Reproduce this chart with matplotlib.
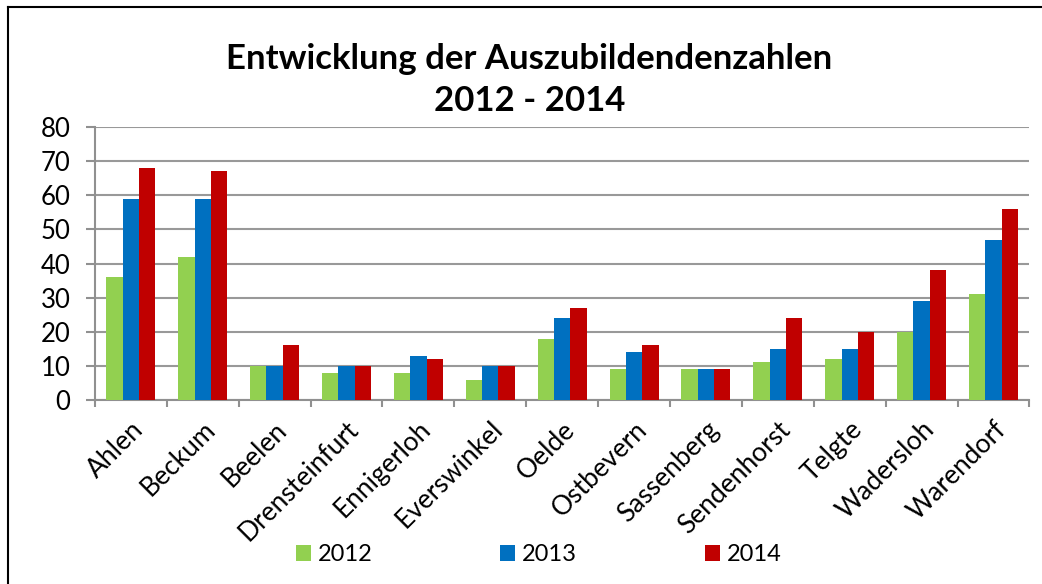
import numpy as np
import matplotlib.pyplot as plt
from matplotlib.lines import Line2D

plt.rcParams['font.family'] = ['Lato', 'DejaVu Sans']

orte = ['Ahlen', 'Beckum', 'Beelen', 'Drensteinfurt', 'Ennigerloh', 'Everswinkel',
        'Oelde', 'Ostbevern', 'Sassenberg', 'Sendenhorst', 'Telgte', 'Wadersloh', 'Warendorf']
werte_2012 = [36, 42, 10, 8, 8, 6, 18, 9, 9, 11, 12, 20, 31]
werte_2013 = [59, 59, 10, 10, 13, 10, 24, 14, 9, 15, 15, 29, 47]
werte_2014 = [68, 67, 16, 10, 12, 10, 27, 16, 9, 24, 20, 38, 56]
jahre = ['2012', '2013', '2014']
farben = ['#92D050', '#0070C0', '#C00000']

fig = plt.figure(figsize=(10.42, 5.84), dpi=100)
ax = fig.add_axes([0.091, 0.315, 0.897, 0.4675])

x = np.arange(len(orte))
w = 0.227
for i, (vals, farbe, jahr) in enumerate(zip([werte_2012, werte_2013, werte_2014], farben, jahre)):
    ax.bar(x + (i - 1) * w, vals, w, color=farbe, label=jahr, zorder=3)

ax.set_xlim(-0.5, len(orte) - 0.5)
ax.set_ylim(0, 80)
ax.set_yticks(range(0, 81, 10))
ax.yaxis.grid(True, color='#999999', linewidth=1.5, zorder=0)

# x-Ticks zwischen den Kategorien, Beschriftung in der Mitte
ax.set_xticks(np.arange(-0.5, len(orte), 1.0))
ax.set_xticklabels([])
ax.set_xticks(x, minor=True)
ax.set_xticklabels(orte, minor=True, rotation=45, ha='right', va='top',
                   rotation_mode='anchor', fontsize=19)
ax.tick_params(axis='x', which='minor', length=0, pad=12)
ax.tick_params(axis='x', which='major', length=5, width=1.5, color='#909090')
ax.tick_params(axis='y', length=6.5, width=1.5, color='#909090', labelsize=18.5, pad=11)

for s in ['top', 'right']:
    ax.spines[s].set_visible(False)
for s in ['left', 'bottom']:
    ax.spines[s].set_color('#909090')
    ax.spines[s].set_linewidth(1.5)

fig.text(0.508, 0.863, 'Entwicklung der Auszubildendenzahlen\n2012 - 2014', ha='center', va='center',
         fontsize=25, fontweight='bold', linespacing=1.42)

handles, leg_labels = ax.get_legend_handles_labels()
fig.legend(handles, leg_labels, loc='center', bbox_to_anchor=(0.517, 0.05), ncol=3, frameon=False,
           fontsize=17, handlelength=0.64, handleheight=0.64, handletextpad=0.3, columnspacing=5.4)

# Rahmen des Diagramms (rechts und unten abgeschnitten)
fig.add_artist(Line2D([0.0077, 0.0077], [0, 0.988], color='black', linewidth=1.5, transform=fig.transFigure))
fig.add_artist(Line2D([0.0077, 1.0], [0.988, 0.988], color='black', linewidth=1.5, transform=fig.transFigure))

fig.savefig('out.png', dpi=100)
